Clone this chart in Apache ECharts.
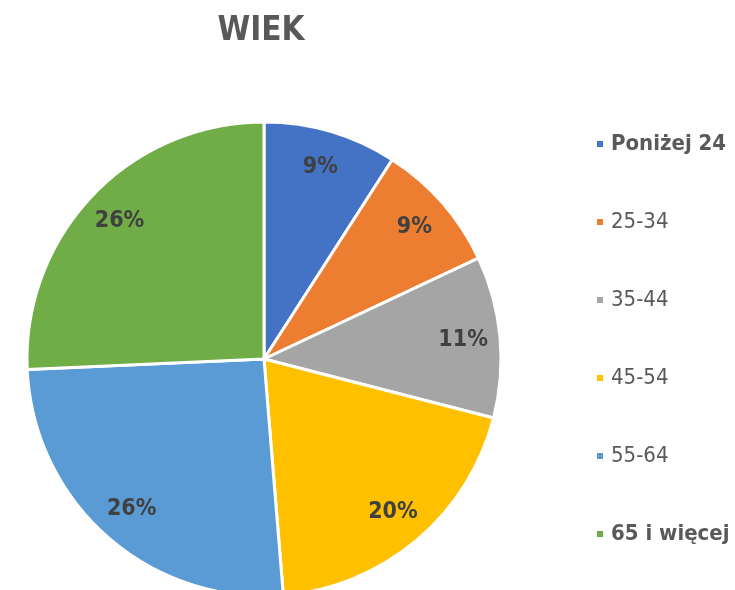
<!DOCTYPE html>
<html><head><meta charset="utf-8">
<script src="https://cdn.jsdelivr.net/npm/echarts@6/dist/echarts.min.js"></script>
<style>html,body{margin:0;padding:0;background:#fff}#c{width:735px;height:590px}</style>
</head><body><div id="c"></div>
<script>
const categories = ['Poniżej 24', '25-34', '35-44', '45-54', '55-64', '65 i więcej'];
const values = [9.1, 8.9, 11.0, 19.7, 25.6, 25.7];
const colors = ['#4472C4', '#ED7D31', '#A5A5A5', '#FFC000', '#5B9BD5', '#70AD47'];
const boldLegend = ['Poniżej 24', '65 i więcej'];
const titleText = 'WIEK';

const FONT = '"DejaVu Sans Condensed", "DejaVu Sans", sans-serif';
const total = values.reduce((a, b) => a + b, 0);
const data = categories.map((n, i) => ({ name: n, value: values[i], itemStyle: { color: colors[i] } }));
const center = [264, 359];
const R = 237;

const chart = echarts.init(document.getElementById('c'), null, { renderer: 'canvas' });
chart.setOption({
  animation: false,
  title: {
    text: titleText, left: 261, top: 15, textAlign: 'center', padding: 0,
    textStyle: { fontFamily: FONT, fontSize: 33, fontWeight: 'bold', color: '#595959' }
  },
  legend: {
    orient: 'vertical', left: 595, top: 133, padding: 0, itemWidth: 8, itemHeight: 8, itemGap: 56, icon: 'rect',
    textStyle: { fontFamily: FONT, fontSize: 22, color: '#595959', lineHeight: 22, padding: [0, 0, 0, 2] },
    data: categories.map(n => ({ name: n, textStyle: { fontWeight: boldLegend.includes(n) ? 'bold' : 'normal' } }))
  },
  series: [
    {
      type: 'pie', center: center, radius: [0, R], startAngle: 90, clockwise: true,
      data: data, silent: true,
      itemStyle: { borderColor: '#fff', borderWidth: 3 },
      label: { show: false }, labelLine: { show: false }
    },
    {
      type: 'pie', center: center, radius: [157, R], startAngle: 90, clockwise: true,
      data: data.map(d => ({ name: d.name, value: d.value, itemStyle: { color: 'rgba(0,0,0,0)' } })),
      silent: true, legendHoverLink: false,
      itemStyle: { borderWidth: 0 },
      label: {
        show: true, position: 'inside',
        formatter: p => Math.round(p.value / total * 100) + '%',
        fontFamily: FONT, fontSize: 23, fontWeight: 'bold', color: '#404040'
      },
      labelLine: { show: false }
    }
  ]
});
</script></body></html>
